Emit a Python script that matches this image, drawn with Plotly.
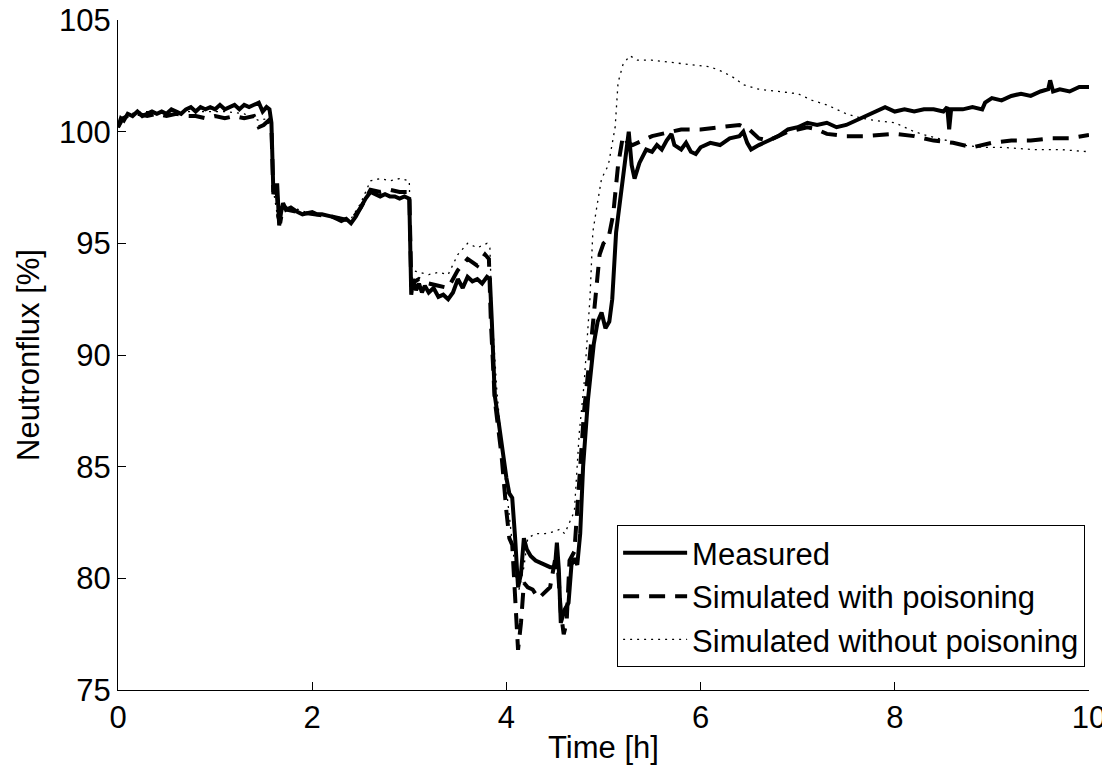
import plotly.graph_objects as go

# ---------------- data ----------------
time_measured = [0.00, 0.03, 0.06, 0.10, 0.15, 0.20, 0.25, 0.30, 0.35, 0.40, 0.45, 0.50, 0.55, 0.60,
                 0.65, 0.70, 0.75, 0.80, 0.85, 0.90, 0.95, 1.00, 1.05, 1.10, 1.15, 1.20, 1.25, 1.30,
                 1.35, 1.40, 1.45, 1.49, 1.53, 1.56, 1.58, 1.60, 1.62, 1.64, 1.66, 1.68, 1.70, 1.73,
                 1.78, 1.85, 1.90, 2.00, 2.05, 2.10, 2.20, 2.25, 2.30, 2.35, 2.40, 2.45, 2.50, 2.55,
                 2.60, 2.65, 2.70, 2.75, 2.80, 2.85, 2.90, 2.95, 3.00, 3.02, 3.04, 3.07, 3.10, 3.13,
                 3.16, 3.20, 3.25, 3.30, 3.35, 3.40, 3.45, 3.50, 3.55, 3.60, 3.65, 3.70, 3.75, 3.80,
                 3.83, 3.85, 3.88, 3.92, 3.96, 4.00, 4.03, 4.06, 4.09, 4.12, 4.15, 4.18, 4.21, 4.25,
                 4.30, 4.35, 4.40, 4.45, 4.50, 4.52, 4.54, 4.56, 4.60, 4.64, 4.67, 4.70, 4.73, 4.76,
                 4.79, 4.84, 4.90, 4.94, 4.98, 5.02, 5.06, 5.09, 5.13, 5.18, 5.22, 5.26, 5.29, 5.32,
                 5.37, 5.44, 5.50, 5.55, 5.60, 5.65, 5.70, 5.73, 5.80, 5.85, 5.90, 5.95, 6.00, 6.10,
                 6.20, 6.30, 6.40, 6.44, 6.48, 6.52, 6.60, 6.70, 6.80, 6.90, 7.00, 7.10, 7.20, 7.30,
                 7.40, 7.50, 7.60, 7.70, 7.80, 7.90, 8.00, 8.10, 8.20, 8.30, 8.40, 8.50, 8.54, 8.56,
                 8.58, 8.70, 8.80, 8.90, 8.93, 9.00, 9.10, 9.20, 9.30, 9.40, 9.50, 9.58, 9.60, 9.63,
                 9.70, 9.80, 9.90, 10.00]
flux_measured = [100.2, 100.6, 100.5, 100.8, 100.7, 100.9, 100.7, 100.8, 100.9, 100.8, 100.9, 100.8, 101.0, 100.9,
                 100.8, 101.0, 101.1, 100.9, 101.1, 101.0, 101.1, 101.0, 101.2, 101.0, 101.1, 101.2, 101.0, 101.2,
                 101.1, 101.2, 101.3, 100.9, 101.1, 101.0, 100.4, 97.3, 97.6, 97.6, 95.8, 96.4, 96.8, 96.5,
                 96.6, 96.4, 96.3, 96.4, 96.3, 96.3, 96.2, 96.1, 96.0, 96.1, 95.9, 96.2, 96.6, 97.0,
                 97.3, 97.2, 97.1, 97.2, 97.1, 97.1, 97.0, 97.1, 97.0, 92.7, 93.4, 92.9, 93.2, 92.8,
                 93.1, 92.8, 93.0, 92.6, 92.7, 92.5, 92.8, 93.4, 93.0, 93.5, 93.3, 93.4, 93.2, 93.5,
                 93.4, 91.5, 88.2, 87.0, 85.6, 84.5, 83.8, 83.6, 81.8, 79.6, 80.2, 81.8, 81.3, 81.0,
                 80.8, 80.7, 80.6, 80.5, 80.5, 81.6, 80.4, 78.0, 78.6, 78.9, 80.6, 80.9, 80.6, 82.0,
                 85.0, 88.0, 90.5, 91.5, 91.9, 91.2, 91.5, 92.5, 95.5, 97.2, 98.5, 100.0, 98.5, 97.9,
                 98.6, 99.2, 99.1, 99.4, 99.2, 99.6, 99.9, 99.4, 99.2, 99.5, 99.1, 99.0, 99.3, 99.5,
                 99.4, 99.7, 99.8, 100.0, 99.5, 99.2, 99.4, 99.6, 99.8, 100.1, 100.2, 100.4, 100.3, 100.4,
                 100.2, 100.3, 100.5, 100.7, 100.9, 101.1, 100.9, 101.0, 100.9, 101.0, 101.0, 100.9, 101.1, 100.1,
                 101.0, 101.0, 101.1, 101.0, 101.3, 101.5, 101.4, 101.6, 101.7, 101.6, 101.8, 101.9, 102.3, 101.8,
                 101.9, 101.8, 102.0, 102.0]

time_with = [0.00, 0.05, 0.10, 0.20, 0.30, 0.40, 0.50, 0.60, 0.70, 0.80, 0.90, 1.00, 1.10, 1.20,
             1.30, 1.40, 1.45, 1.50, 1.55, 1.58, 1.60, 1.63, 1.65, 1.67, 1.70, 1.75, 1.85, 2.00,
             2.20, 2.40, 2.50, 2.60, 2.70, 2.80, 2.90, 3.00, 3.02, 3.10, 3.20, 3.30, 3.40, 3.50,
             3.60, 3.70, 3.78, 3.82, 3.84, 3.88, 3.95, 4.00, 4.03, 4.06, 4.09, 4.12, 4.15, 4.18,
             4.22, 4.27, 4.33, 4.38, 4.45, 4.50, 4.53, 4.56, 4.59, 4.62, 4.65, 4.70, 4.74, 4.80,
             4.86, 4.91, 4.96, 5.00, 5.05, 5.10, 5.15, 5.20, 5.25, 5.30, 5.40, 5.50, 5.60, 5.70,
             5.80, 5.90, 6.00, 6.20, 6.40, 6.50, 6.60, 6.70, 6.80, 6.90, 7.00, 7.10, 7.20, 7.30,
             7.50, 7.70, 8.00, 8.20, 8.40, 8.60, 8.80, 9.00, 9.20, 9.40, 9.60, 9.80, 10.00]
flux_with = [100.2, 100.6, 100.7, 100.8, 100.7, 100.8, 100.7, 100.8, 100.7, 100.7, 100.6, 100.7, 100.6, 100.7,
             100.6, 100.7, 100.2, 100.3, 100.5, 100.2, 97.2, 97.7, 96.2, 95.9, 96.7, 96.5, 96.4, 96.3,
             96.2, 96.0, 96.6, 97.4, 97.3, 97.4, 97.3, 97.3, 93.2, 93.4, 93.2, 93.1, 93.0, 93.8,
             94.3, 94.0, 94.5, 94.3, 91.5, 88.0, 85.5, 83.0, 81.8, 81.5, 79.0, 76.8, 78.0, 79.8,
             79.6, 79.5, 79.1, 79.3, 79.6, 80.8, 80.5, 78.5, 77.5, 78.0, 80.8, 81.2, 84.0, 87.5,
             90.0, 92.5, 94.5, 95.0, 95.2, 96.3, 98.5, 99.8, 99.5, 99.4, 99.6, 99.8, 99.9, 100.0,
             100.1, 100.1, 100.1, 100.2, 100.3, 100.1, 99.7, 99.6, 99.8, 100.0, 100.1, 100.2, 100.1, 99.9,
             99.8, 99.8, 99.9, 99.8, 99.6, 99.5, 99.3, 99.5, 99.6, 99.6, 99.7, 99.7, 99.85]

time_without = [0.00, 0.10, 0.30, 0.50, 0.70, 0.90, 1.10, 1.30, 1.45, 1.55, 1.58, 1.60, 1.65, 1.70,
                1.80, 2.00, 2.20, 2.40, 2.50, 2.60, 2.70, 2.80, 2.90, 3.00, 3.02, 3.10, 3.20, 3.30,
                3.40, 3.50, 3.60, 3.70, 3.80, 3.83, 3.85, 3.90, 3.95, 4.00, 4.05, 4.10, 4.13, 4.18,
                4.22, 4.30, 4.40, 4.50, 4.55, 4.60, 4.65, 4.70, 4.75, 4.80, 4.86, 4.89, 4.93, 4.98,
                5.05, 5.12, 5.15, 5.20, 5.27, 5.35, 5.50, 5.70, 5.94, 6.10, 6.22, 6.35, 6.44, 6.60,
                6.80, 7.00, 7.15, 7.30, 7.50, 7.66, 7.80, 8.00, 8.20, 8.35, 8.54, 8.70, 8.90, 9.10,
                9.42, 9.70, 10.00]
flux_without = [100.2, 100.8, 100.9, 100.9, 100.9, 100.9, 100.9, 100.8, 100.5, 100.6, 100.4, 97.4, 96.0, 96.7,
                96.6, 96.3, 96.2, 96.1, 96.8, 97.8, 97.9, 97.8, 97.9, 97.8, 93.8, 93.7, 93.6, 93.7,
                93.6, 94.5, 95.0, 94.8, 95.0, 94.8, 92.0, 88.5, 86.0, 84.0, 82.0, 80.0, 79.5, 80.5,
                81.8, 82.0, 82.0, 82.1, 82.2, 82.0, 82.5, 83.0, 86.5, 88.7, 92.5, 95.5, 96.6, 97.9,
                98.5, 100.2, 102.2, 103.0, 103.4, 103.2, 103.2, 103.1, 103.0, 102.9, 102.7, 102.4, 102.1, 101.9,
                101.8, 101.7, 101.4, 101.2, 100.8, 100.6, 100.5, 100.4, 100.0, 99.8, 99.6, 99.4, 99.3, 99.3,
                99.2, 99.2, 99.1]

series_names = ["Measured", "Simulated with poisoning", "Simulated without poisoning"]
x_ticks = [0, 2, 4, 6, 8, 10]
y_ticks = [75, 80, 85, 90, 95, 100, 105]

FONT = "Liberation Sans, Arial, sans-serif"
FS = 31

fig = go.Figure()
fig.add_trace(go.Scatter(x=time_measured, y=flux_measured, mode="lines", name=series_names[0],
                         line=dict(color="black", width=4)))
fig.add_trace(go.Scatter(x=time_with, y=flux_with, mode="lines", name=series_names[1],
                         line=dict(color="black", width=4, dash="16px,10px")))
fig.add_trace(go.Scatter(x=time_without, y=flux_without, mode="lines", name=series_names[2],
                         line=dict(color="black", width=1.3, dash="2px,5px")))

# page body has an 8px margin, so the figure is sized to the visible area
fig.update_layout(
    width=1102, height=760,
    paper_bgcolor="white", plot_bgcolor="white",
    margin=dict(l=110, r=21, t=12, b=78),
    font=dict(family=FONT, size=FS, color="black"),
    showlegend=True,
    legend=dict(x=0.996, y=0.034, xanchor="right", yanchor="bottom",
                bordercolor="black", borderwidth=1, bgcolor="white",
                font=dict(family=FONT, size=FS, color="black"),
                itemwidth=64, tracegroupgap=0),
)
fig.update_xaxes(range=[0, 10], tickvals=x_ticks, ticks="inside", ticklen=8, tickcolor="black",
                 showline=True, linecolor="black", linewidth=1, showgrid=False, zeroline=False,
                 automargin=False, tickfont=dict(size=FS), ticklabeloverflow="allow",
                 title=dict(text="Time [h]", standoff=2, font=dict(size=FS)), mirror=False)
fig.update_yaxes(range=[75, 105], tickvals=y_ticks, ticks="inside", ticklen=8, tickcolor="black",
                 showline=True, linecolor="black", linewidth=1, showgrid=False, zeroline=False,
                 automargin=False, tickfont=dict(size=FS), ticklabeloverflow="allow",
                 title=dict(text="Neutronflux [%]", standoff=10, font=dict(size=FS)), mirror=False)

fig.write_html("out.html")
